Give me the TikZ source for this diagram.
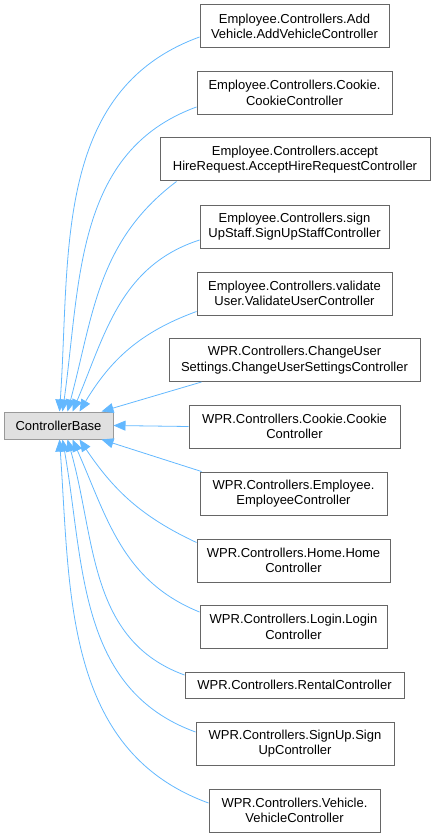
\documentclass[tikz,border=0pt]{standalone}
\usepackage{fontspec}
\setmainfont{Liberation Sans}
\usepackage{tikz}
\usetikzlibrary{arrows.meta,positioning,calc}
\definecolor{edg}{HTML}{63B8FF}
\definecolor{bd}{HTML}{666666}
\definecolor{bbd}{HTML}{999999}
\definecolor{bfill}{HTML}{E0E0E0}
\tikzset{
  cls/.style={draw=bd, fill=white, line width=1pt, align=center, inner sep=0pt,
    minimum height=43pt, font=\fontsize{13pt}{15.5pt}\selectfont},
  basecls/.style={cls, draw=bbd, fill=bfill, minimum height=27pt, minimum width=109pt},
  inh/.style={draw=edg, line width=0.8pt, -{Triangle[length=12pt,width=10pt,fill=edg]}},
}

\begin{document}
\begin{tikzpicture}[x=1pt,y=-1pt]
  \useasboundingbox (0,0) rectangle (434,837);
  \node[basecls] (base) at (58.5,425.5) {ControllerBase};
  % derived controllers
  \node[cls, minimum width=189pt] (c1) at (294.5,26.5) {Employee.Controllers.Add\\Vehicle.AddVehicleController};
  \node[cls, minimum width=195pt] (c2) at (294.5,93) {Employee.Controllers.Cookie.\\CookieController};
  \node[cls, minimum width=270pt] (c3) at (295,159.5) {Employee.Controllers.accept\\HireRequest.AcceptHireRequestController};
  \node[cls, minimum width=189pt] (c4) at (294.5,226.5) {Employee.Controllers.sign\\UpStaff.SignUpStaffController};
  \node[cls, minimum width=195pt] (c5) at (294.5,293.5) {Employee.Controllers.validate\\User.ValidateUserController};
  \node[cls, minimum width=251pt] (c6) at (294.5,360) {WPR.Controllers.ChangeUser\\Settings.ChangeUserSettingsController};
  \node[cls, minimum width=211pt] (c7) at (294.5,426.5) {WPR.Controllers.Cookie.Cookie\\Controller};
  \node[cls, minimum width=187pt] (c8) at (293.5,493.5) {WPR.Controllers.Employee.\\EmployeeController};
  \node[cls, minimum width=193pt] (c9) at (293.5,560.5) {WPR.Controllers.Home.Home\\Controller};
  \node[cls, minimum width=187pt] (c10) at (293.5,627) {WPR.Controllers.Login.Login\\Controller};
  \node[cls, minimum width=219pt, minimum height=26pt] (c11) at (294.5,685) {WPR.Controllers.RentalController};
  \node[cls, minimum width=198pt] (c12) at (295,743.5) {WPR.Controllers.SignUp.Sign\\UpController};
  \node[cls, minimum width=171pt] (c13) at (294.5,810.5) {WPR.Controllers.Vehicle.\\VehicleController};
  % inheritance edges
  \draw[inh] ([yshift=-10.5pt]c1.west) to[out=200,in=86] ([xshift=56pt]base.north west);
  \draw[inh] ([yshift=-14pt]c2.west) to[out=200,in=82] ([xshift=59pt]base.north west);
  \draw[inh] ([xshift=17pt]c3.south west) to[out=217,in=75] ([xshift=64pt]base.north west);
  \draw[inh] ([yshift=-13.5pt]c4.west) to[out=198,in=67] ([xshift=69pt]base.north west);
  \draw[inh] ([yshift=-18pt]c5.west) to[out=200,in=59] ([xshift=76pt]base.north west);
  \draw[inh] ([xshift=33pt]c6.south west) -- ([xshift=-12pt]base.north east);
  \draw[inh] (c7.west) -- (base.east);
  \draw[inh] ([xshift=2pt]c8.north west) -- ([xshift=-12pt]base.south east);
  \draw[inh] ([yshift=18pt]c9.west) to[out=155,in=-56] ([xshift=76pt]base.south west);
  \draw[inh] ([yshift=15pt]c10.west) to[out=158,in=-66] ([xshift=69pt]base.south west);
  \draw[inh] ([yshift=10pt]c11.west) to[out=160,in=-74] ([xshift=64pt]base.south west);
  \draw[inh] ([yshift=11.5pt]c12.west) to[out=160,in=-80] ([xshift=59pt]base.south west);
  \draw[inh] ([yshift=7.5pt]c13.west) to[out=160,in=-86] ([xshift=56pt]base.south west);
\end{tikzpicture}
\end{document}
